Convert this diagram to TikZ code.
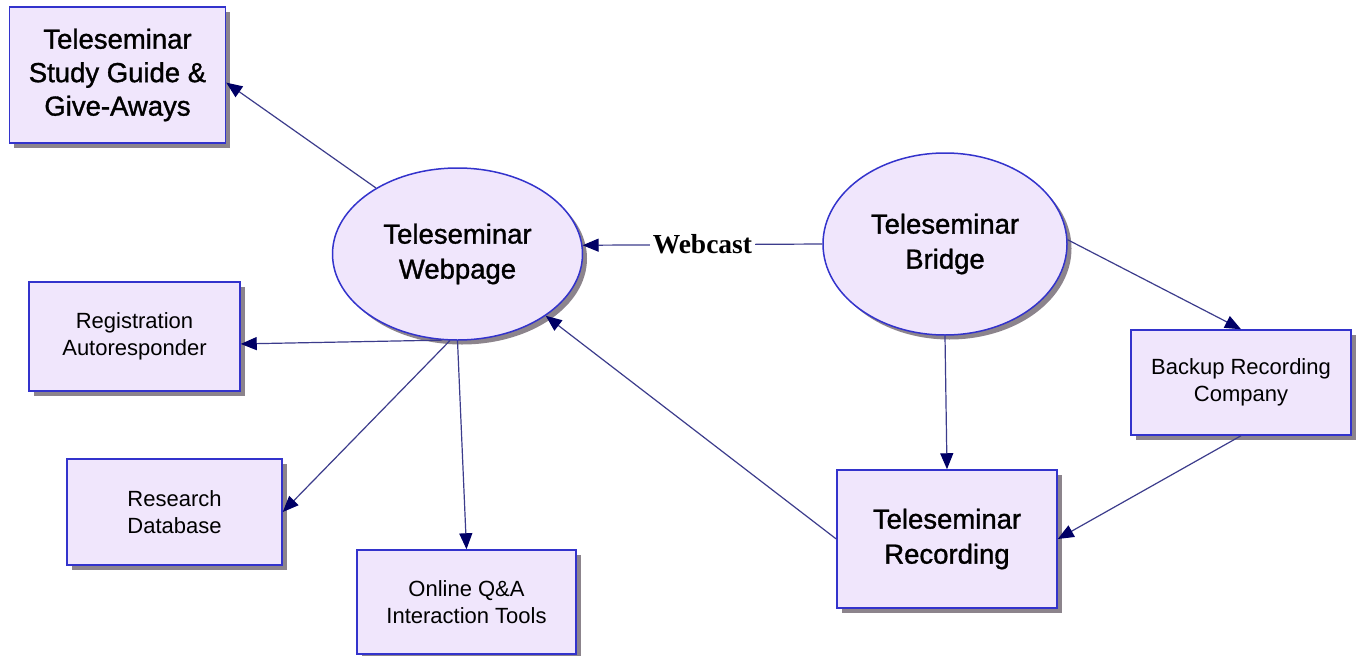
\documentclass[tikz,border=0pt]{standalone}
\usepackage{fontspec}
\setmainfont{Liberation Sans}
\newfontfamily\bigf[FakeBold=1.2]{Liberation Sans}
\newfontfamily\serifb{Liberation Serif}
\usetikzlibrary{arrows.meta,shapes.geometric,shadows}
\definecolor{nodefill}{RGB}{240,230,252}
\definecolor{nodeline}{RGB}{51,51,204}
\definecolor{linecol}{RGB}{60,60,140}
\definecolor{tipcol}{RGB}{0,0,102}
\definecolor{shadowcol}{RGB}{140,132,140}
\begin{document}
\begin{tikzpicture}[x=1pt,y=-1pt,
  base/.style={draw=nodeline, line width=1.5pt, fill=nodefill, align=center, inner sep=0pt,
    general shadow={fill=shadowcol, shadow xshift=4.5pt, shadow yshift=-4.5pt}},
  bigbox/.style={base, rectangle, font=\bigf\fontsize{27.5}{33.5}\selectfont},
  smallbox/.style={base, rectangle, font=\fontsize{22}{27}\selectfont},
  oval/.style={base, ellipse, font=\bigf\fontsize{27.5}{35}\selectfont},
  conn/.style={draw=linecol, line width=1.2pt, -{Triangle[length=16pt,width=13pt,color=tipcol]}},
  lbl/.style={fill=white, inner sep=3pt, font=\fontsize{27.5}{27.5}\selectfont\serifb\bfseries}]
\fill[white] (0,0) rectangle (1358,656);
\useasboundingbox (0,0) rectangle (1358,656);

\node[bigbox, minimum width=216pt, minimum height=136pt] (study) at (117.5,75) {Teleseminar\\Study Guide \&\\Give-Aways};
\node[oval, minimum width=250pt, minimum height=172pt] (web) at (457.5,254) {Teleseminar\\Webpage};
\node[oval, minimum width=244pt, minimum height=182pt] (bridge) at (945,244) {Teleseminar\\Bridge};
\node[smallbox, minimum width=211pt, minimum height=109pt] (reg) at (134.5,336.5) {Registration\\Autoresponder};
\node[smallbox, minimum width=215pt, minimum height=106pt] (research) at (174.5,512) {Research\\Database};
\node[smallbox, minimum width=219pt, minimum height=104pt] (online) at (466.5,602) {Online Q\&A\\Interaction Tools};
\node[bigbox, minimum width=220pt, minimum height=138pt, font=\bigf\fontsize{27.5}{35}\selectfont] (rec) at (947,539) {Teleseminar\\Recording};
\node[smallbox, minimum width=220pt, minimum height=105pt] (backup) at (1241,382.5) {Backup Recording\\Company};

\draw[conn] (web.141) -- (study.-4);
\draw[conn] (bridge.west) -- node[lbl] {Webcast} (web.4);
\draw[conn] (web.260) -- (reg.-4);
\draw[conn] (web.265) -- (research.east);
\draw[conn] (web.270) -- (online.north);
\draw[conn] (rec.west) -- (web.-35);
\draw[conn] (bridge.south) -- (rec.north);
\draw[conn] (bridge.2) -- (backup.north);
\draw[conn] (backup.south) -- (rec.east);
\end{tikzpicture}
\end{document}
